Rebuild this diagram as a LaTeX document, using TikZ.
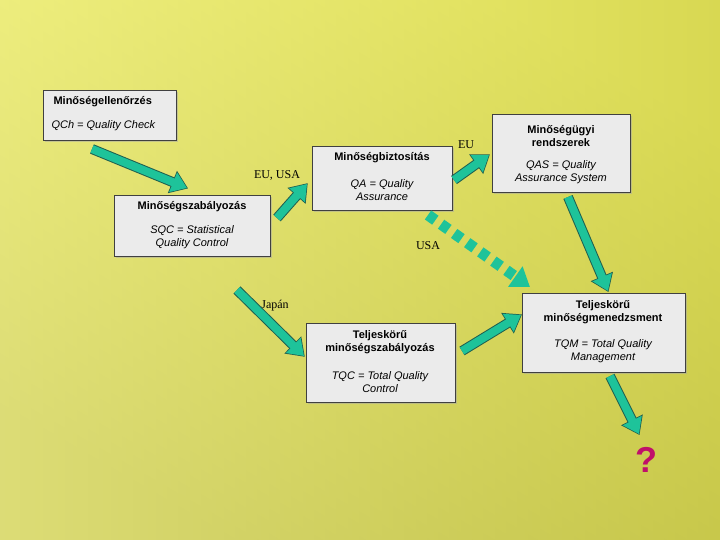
\documentclass[tikz,border=0pt]{standalone}
\usepackage{fontspec}
\setmainfont{Liberation Sans}
\newfontfamily\serif{Liberation Serif}
\usetikzlibrary{arrows.meta,shadows}
\definecolor{boxfill}{HTML}{EBEBEB}
\definecolor{arrgreen}{HTML}{1EC39A}
\definecolor{arrdark}{HTML}{1F5F50}
\definecolor{qmark}{HTML}{C0106A}
\tikzset{
  box/.style={draw=black!75,fill=boxfill,line width=0.8pt,drop shadow={shadow xshift=1.5pt,shadow yshift=-1.5pt,fill=black!35}},
  ttl/.style={font=\bfseries\fontsize{11}{12.5}\selectfont,align=center},
  sub/.style={font=\itshape\fontsize{11}{13}\selectfont,align=center},
  lbl/.style={font=\serif\fontsize{12}{13}\selectfont},
  fat/.style={line width=8pt,arrgreen,-{Triangle[width=20pt,length=15pt]},
     preaction={draw=arrdark,line width=10pt,-{Triangle[width=23pt,length=17pt]},shorten >=-1.2pt}},
  dasharr/.style={line width=11pt,arrgreen,dash pattern=on 9pt off 7pt,-{Triangle[width=24pt,length=18pt]}}
}
\begin{document}
\begin{tikzpicture}[x=1pt,y=-1pt]
\shade[top color=yellow!45!white,bottom color=yellow!60!black!55!white,shading angle=-30] (0,0) rectangle (720,540);
\shade[left color=yellow!50!white!95!black,right color=olive!60!white,opacity=0.5] (0,0) rectangle (720,540);
\useasboundingbox (0,0) rectangle (720,540);
% boxes
\node[box,minimum width=133,minimum height=50,anchor=north west] (b1) at (43,90) {};
\node[box,minimum width=156,minimum height=61,anchor=north west] (b2) at (114,195) {};
\node[box,minimum width=140,minimum height=64,anchor=north west] (b3) at (312,146) {};
\node[box,minimum width=138,minimum height=78,anchor=north west] (b4) at (492,114) {};
\node[box,minimum width=163,minimum height=79,anchor=north west] (b5) at (522,293) {};
\node[box,minimum width=149,minimum height=79,anchor=north west] (b6) at (306,323) {};
% texts
\node[ttl,anchor=west] (t1) at (50,102) {Minőségellenőrzés};
\node[sub,anchor=west] (s1) at (48,126) {QCh = Quality Check};
\node[ttl] (t2) at (192,207) {Minőségszabályozás};
\node[sub] (s2) at (192,237) {SQC = Statistical\\Quality Control};
\node[ttl] (t3) at (382,158) {Minőségbiztosítás};
\node[sub] (s3) at (382,190) {QA = Quality\\Assurance};
\node[ttl] (t4) at (561,136) {Minőségügyi\\rendszerek};
\node[sub] (s4) at (561,172) {QAS = Quality\\Assurance System};
\node[ttl] (t5) at (603,312) {Teljeskörű\\minőségmenedzsment};
\node[sub] (s5) at (603,351) {TQM = Total Quality\\Management};
\node[ttl] (t6) at (380,342) {Teljeskörű\\minőségszabályozás};
\node[sub] (s6) at (380,382) {TQC = Total Quality\\Control};
% labels
\node[lbl] (l1) at (277,175) {EU, USA};
\node[lbl] (l2) at (466,145) {EU};
\node[lbl] (l3) at (428,246) {USA};
\node[lbl] (l4) at (275,306) {Japán};
\node[font=\bfseries\fontsize{36}{36}\selectfont,text=qmark] (q) at (646,460) {?};
% arrow coordinates
\coordinate (a1s) at (92,149); \coordinate (a1e) at (187,188);
\coordinate (a2s) at (277,218); \coordinate (a2e) at (307,184);
\coordinate (a3s) at (454,180); \coordinate (a3e) at (489,155);
\coordinate (a4s) at (428,215); \coordinate (a4e) at (530,287);
\coordinate (a5s) at (568,197); \coordinate (a5e) at (608,291);
\coordinate (a6s) at (237,290); \coordinate (a6e) at (304,356);
\coordinate (a7s) at (462,351); \coordinate (a7e) at (521,315);
\coordinate (a8s) at (610,376); \coordinate (a8e) at (639,434);
\draw[fat] (a1s) -- (a1e);
\draw[fat] (a2s) -- (a2e);
\draw[fat] (a3s) -- (a3e);
\draw[dasharr] (a4s) -- (a4e);
\draw[fat] (a5s) -- (a5e);
\draw[fat] (a6s) -- (a6e);
\draw[fat] (a7s) -- (a7e);
\draw[fat] (a8s) -- (a8e);
\end{tikzpicture}
\end{document}
